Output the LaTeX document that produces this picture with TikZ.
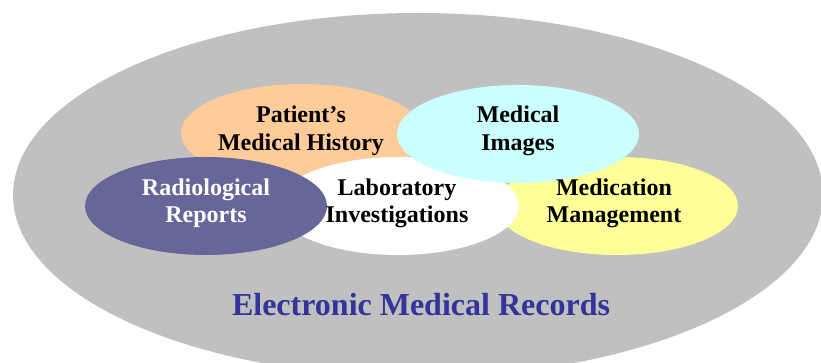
\documentclass[tikz,border=0pt]{standalone}
\usepackage{fontspec}
\setmainfont{Liberation Serif}
\usetikzlibrary{shapes.geometric}
\definecolor{emrgray}{HTML}{C0C0C0}
\definecolor{histcol}{HTML}{FFCC99}
\definecolor{imgcol}{HTML}{CCFFFF}
\definecolor{medcol}{HTML}{FFFF99}
\definecolor{radcol}{HTML}{666699}
\definecolor{titlecol}{HTML}{333399}
\tikzset{
  blob/.style={ellipse, inner sep=0pt, minimum width=242pt, minimum height=98pt},
  blobtext/.style={font=\fontsize{24}{28}\selectfont\bfseries, align=center, anchor=base},
}
\begin{document}
\begin{tikzpicture}[x=1pt,y=-1pt]
\useasboundingbox (0,0) rectangle (821,363);
\begin{scope}
\clip (0,0) rectangle (821,363);
\node[ellipse, fill=emrgray, minimum width=810pt, minimum height=364pt, inner sep=0pt] (emr) at (418,195) {};
\end{scope}
\node[blob, fill=histcol] (hist) at (302,133) {};
\node[blob, fill=medcol] (med) at (617,206) {};
\node[blob, fill=white] (lab) at (398,206) {};
\node[blob, fill=radcol] (rad) at (206,206) {};
\node[blob, fill=imgcol] (img) at (518,134) {};
\node[blobtext] (histt) at (301,151) {Patient’s\\Medical History};
\node[blobtext] (imgt) at (518,151) {Medical\\Images};
\node[blobtext, text=white] (radt) at (206,223) {Radiological\\Reports};
\node[blobtext] (labt) at (397,223) {Laboratory\\Investigations};
\node[blobtext] (medt) at (614,223) {Medication\\Management};
\node[font=\fontsize{32}{36}\selectfont\bfseries, text=titlecol, anchor=base] (title) at (421,315) {Electronic Medical Records};
\end{tikzpicture}
\end{document}
